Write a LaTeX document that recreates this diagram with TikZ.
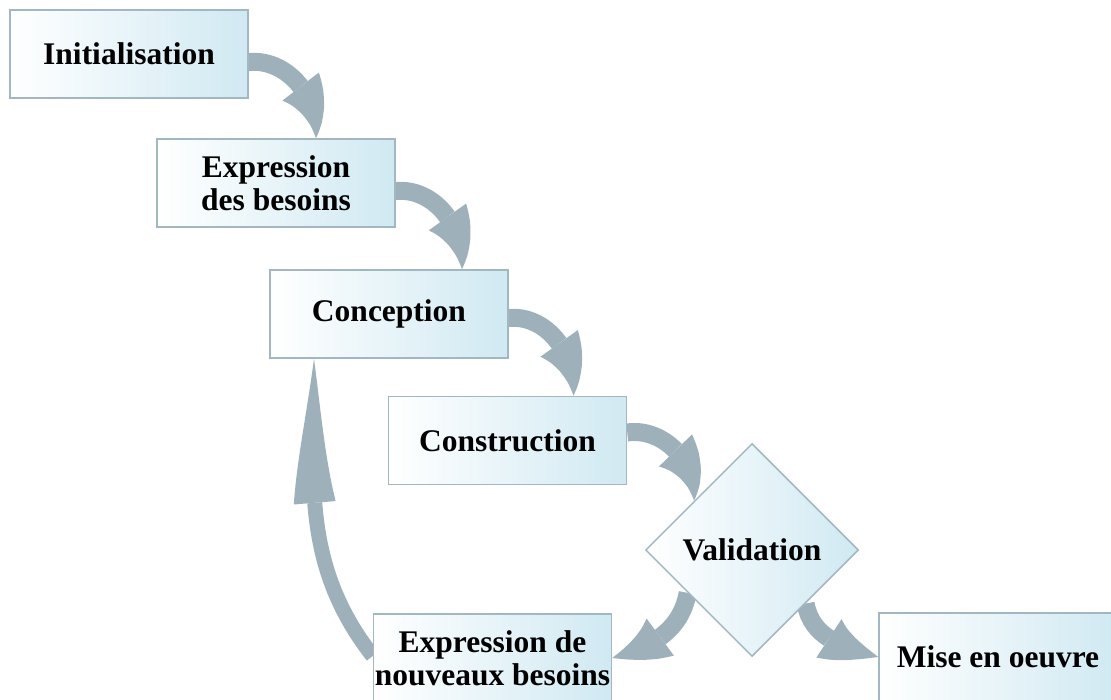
\documentclass[tikz,border=0pt]{standalone}
\usepackage{fontspec}
\setmainfont{Liberation Serif}
\usetikzlibrary{shapes.geometric,arrows.meta,bending,calc,backgrounds}
\definecolor{arrowc}{RGB}{158,177,187}
\definecolor{boxr}{RGB}{208,233,242}
\definecolor{boxline}{RGB}{163,183,193}
\begin{document}
\begin{tikzpicture}[x=1pt,y=1pt,
  box/.style={draw=boxline, line width=1.5pt, left color=white, right color=boxr,
    minimum width=238pt, minimum height=88pt, inner sep=0pt, align=center,
    font=\fontsize{31.5}{33}\selectfont\bfseries},
  dia/.style={diamond, draw=boxline, line width=1.5pt, left color=white, right color=boxr,
    minimum width=213pt, minimum height=213pt, inner sep=0pt,
    font=\fontsize{31.5}{33}\selectfont\bfseries},
  flow/.style={draw=arrowc, line width=18pt,
    -{Triangle[bend, length=56pt, width=46pt, line width=0pt]}},
  backflow/.style={draw=arrowc, line width=15pt,
    -{Triangle[bend, length=160pt, width=42pt, line width=0pt]}},
]
\useasboundingbox (0,0) rectangle (1111,-700);
\node[box] (init) at (129,-54) {Initialisation};
\node[box] (exp) at (276,-183) {Expression\\des besoins};
\node[box] (conc) at (389,-314) {Conception};
\node[box] (cons) at (507.5,-440.5) {Construction};
\node[dia] (val) at (752,-550) {Validation};
\node[box] (nouv) at (492.5,-658) {Expression de\\nouveaux besoins};
\node[box] (mise) at (998,-657) {Mise en oeuvre};
\begin{scope}[on background layer]
\draw[flow] ([yshift=-8pt]init.east) to[out=5,in=85] ([xshift=40pt]exp.north);
\draw[flow] ([yshift=-8pt]exp.east) to[out=5,in=85] ([xshift=73pt]conc.north);
\draw[flow] ([yshift=-4pt]conc.east) to[out=5,in=85] ([xshift=66pt]cons.north);
\draw[flow] ([yshift=8pt]cons.east) to[out=8,in=85] ($(val.west)!0.46!(val.north)$);
\draw[flow] ($(val.west)!0.4!(val.south)$) to[out=-100,in=15] (nouv.east);
\draw[flow] ($(val.south)!0.5!(val.east)$) to[out=-80,in=165] (mise.west);
\draw[backflow] ([yshift=2pt]nouv.west) to[out=128,in=-90] ([xshift=-75pt]conc.south);
\end{scope}
\end{tikzpicture}
\end{document}
